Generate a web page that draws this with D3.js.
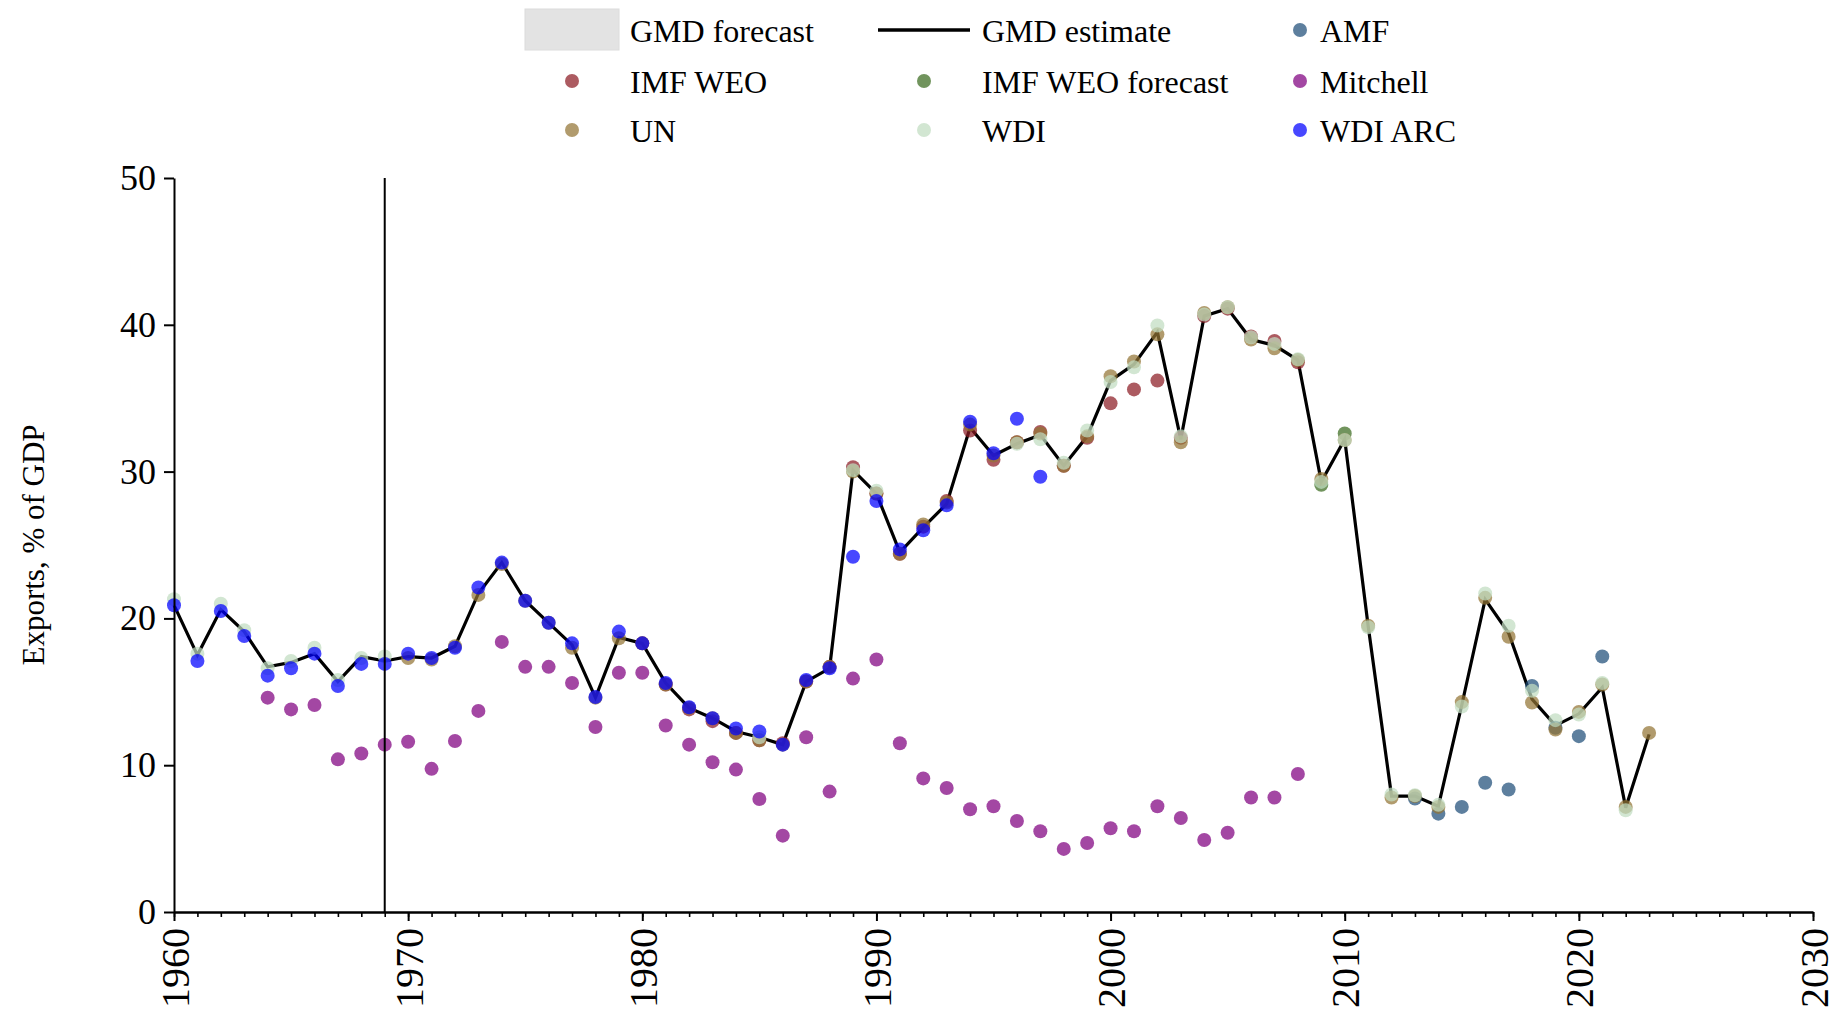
<!DOCTYPE html>
<html>
<head>
<meta charset="utf-8">
<script src="https://cdn.jsdelivr.net/npm/d3@7"></script>
<style>
  html, body { margin: 0; padding: 0; background: #fff; }
  svg { display: block; font-family: "Liberation Serif", "Times New Roman", serif; }
</style>
</head>
<body>
<svg id="chart" width="1840" height="1018"></svg>
<script>
// ---------------- data ----------------
const gmdEstimate = [
  [1960,20.9],[1961,17.5],[1962,20.6],[1963,19.1],[1964,16.7],[1965,17.0],[1966,17.6],[1967,15.7],[1968,17.4],[1969,17.1],
  [1970,17.4],[1971,17.3],[1972,18.1],[1973,21.7],[1974,23.8],[1975,21.2],[1976,19.7],[1977,18.2],[1978,14.6],[1979,18.7],
  [1980,18.3],[1981,15.6],[1982,13.9],[1983,13.2],[1984,12.3],[1985,11.9],[1986,11.4],[1987,15.7],[1988,16.6],[1989,30.1],
  [1990,28.5],[1991,24.5],[1992,26.2],[1993,27.8],[1994,33.0],[1995,31.1],[1996,31.9],[1997,32.5],[1998,30.4],[1999,32.4],
  [2000,36.2],[2001,37.3],[2002,39.5],[2003,32.2],[2004,40.6],[2005,41.1],[2006,39.0],[2007,38.6],[2008,37.6],[2009,29.3],
  [2010,32.2],[2011,19.5],[2012,7.9],[2013,7.9],[2014,7.2],[2015,14.1],[2016,21.3],[2017,19.0],[2018,14.5],[2019,12.7],
  [2020,13.5],[2021,15.3],[2022,7.1],[2023,12.1]
];
const amf = [[2013,7.73],[2014,6.7],[2015,7.16],[2016,8.8],[2017,8.34],[2018,15.4],[2019,12.55],[2020,11.98],[2021,17.4]];
const imfWeo = [
  [1980,18.3],[1981,15.5],[1982,13.8],[1983,13.0],[1984,12.2],[1985,11.7],[1986,11.5],[1987,15.7],[1988,16.7],[1989,30.3],
  [1990,28.5],[1991,24.4],[1992,26.25],[1993,28.0],[1994,32.8],[1995,30.8],[1996,32.0],[1997,32.7],[1998,30.4],[1999,32.3],
  [2000,34.65],[2001,35.6],[2002,36.2],[2003,32.3],[2004,40.6],[2005,41.1],[2006,39.2],[2007,38.9],[2008,37.45]
];
const imfWeoForecast = [[2009,29.1],[2010,32.6]];
const mitchell = [
  [1964,14.6],[1965,13.8],[1966,14.1],[1967,10.4],[1968,10.8],[1969,11.4],[1970,11.6],[1971,9.75],[1972,11.65],[1973,13.7],
  [1974,18.4],[1975,16.7],[1976,16.7],[1977,15.6],[1978,12.6],[1979,16.3],[1980,16.3],[1981,12.7],[1982,11.4],[1983,10.2],
  [1984,9.7],[1985,7.7],[1986,5.2],[1987,11.9],[1988,8.2],[1989,15.9],[1990,17.2],[1991,11.5],[1992,9.1],[1993,8.45],
  [1994,7.0],[1995,7.2],[1996,6.2],[1997,5.5],[1998,4.3],[1999,4.7],[2000,5.7],[2001,5.5],[2002,7.2],[2003,6.4],
  [2004,4.9],[2005,5.4],[2006,7.8],[2007,7.8],[2008,9.4]
];
const un = [
  [1970,17.3],[1971,17.2],[1972,18.1],[1973,21.6],[1974,23.7],[1975,21.2],[1976,19.7],[1977,18.0],[1978,14.6],[1979,18.65],
  [1980,18.3],[1981,15.5],[1982,13.9],[1983,13.2],[1984,12.2],[1985,11.7],[1986,11.4],[1987,15.7],[1988,16.7],[1989,30.0],
  [1990,28.5],[1991,24.4],[1992,26.4],[1993,27.9],[1994,33.2],[1995,31.1],[1996,32.0],[1997,32.6],[1998,30.4],[1999,32.4],
  [2000,36.5],[2001,37.5],[2002,39.35],[2003,32.0],[2004,40.8],[2005,41.2],[2006,39.0],[2007,38.4],[2008,37.6],[2009,29.5],
  [2010,32.15],[2011,19.5],[2012,7.8],[2013,7.9],[2014,7.16],[2015,14.3],[2016,21.4],[2017,18.75],[2018,14.27],[2019,12.43],
  [2020,13.63],[2021,15.5],[2022,7.16],[2023,12.2]
];
const wdi = [
  [1960,21.3],[1961,17.6],[1962,21.0],[1963,19.2],[1964,16.6],[1965,17.1],[1966,18.0],[1967,15.8],[1968,17.3],[1969,17.4],
  [1985,11.9],[1989,30.1],[1990,28.7],[1996,31.9],[1997,32.2],[1998,30.6],[1999,32.8],[2000,36.1],[2001,37.1],[2002,39.95],
  [2003,32.4],[2004,40.7],[2005,41.2],[2006,39.15],[2007,38.7],[2008,37.65],[2009,29.3],[2010,32.15],[2011,19.4],[2012,8.0],
  [2013,7.95],[2014,7.3],[2015,14.0],[2016,21.7],[2017,19.5],[2018,15.07],[2019,13.07],[2020,13.45],[2021,15.6],[2022,6.93]
];
const wdiArc = [
  [1960,20.9],[1961,17.1],[1962,20.5],[1963,18.8],[1964,16.1],[1965,16.6],[1966,17.6],[1967,15.4],[1968,16.9],[1969,16.9],
  [1970,17.6],[1971,17.3],[1972,18.0],[1973,22.1],[1974,23.8],[1975,21.2],[1976,19.7],[1977,18.3],[1978,14.65],[1979,19.1],
  [1980,18.3],[1981,15.6],[1982,13.95],[1983,13.2],[1984,12.5],[1985,12.3],[1986,11.4],[1987,15.8],[1988,16.6],[1989,24.2],
  [1990,28.0],[1991,24.7],[1992,26.0],[1993,27.7],[1994,33.4],[1995,31.25],[1996,33.6],[1997,29.65]
];
const markerYear = 1969;
const xTicks = [1960, 1970, 1980, 1990, 2000, 2010, 2020, 2030];
const yTicks = [0, 10, 20, 30, 40, 50];
const yLabel = "Exports, % of GDP";

const series = [
  { name: "AMF", data: amf, color: "#1f4e79" },
  { name: "IMF WEO", data: imfWeo, color: "#8c1c24" },
  { name: "IMF WEO forecast", data: imfWeoForecast, color: "#3a6b1f" },
  { name: "Mitchell", data: mitchell, color: "#800080" },
  { name: "UN", data: un, color: "#937535" },
  { name: "WDI", data: wdi, color: "#c0dcc0" },
  { name: "WDI ARC", data: wdiArc, color: "#0000ff" }
];

// ---------------- layout ----------------
const svg = d3.select("#chart");
svg.append("rect").attr("width", 1840).attr("height", 1018).attr("fill", "#fff");

const x = d3.scaleLinear().domain([1960, 2030]).range([174, 1813]);
const y = d3.scaleLinear().domain([0, 50]).range([912, 178]);
const DOT_R = 7, DOT_OP = 0.72;

// line
const line = d3.line().x(d => x(d[0])).y(d => y(d[1]));
svg.append("path").datum(gmdEstimate)
  .attr("d", line).attr("fill", "none").attr("stroke", "#000")
  .attr("stroke-width", 3.2).attr("stroke-linejoin", "miter");

// points
series.forEach(s => {
  svg.append("g").selectAll("circle").data(s.data).join("circle")
    .attr("cx", d => x(d[0])).attr("cy", d => y(d[1]))
    .attr("r", DOT_R).attr("fill", s.color).attr("fill-opacity", DOT_OP);
});

// vertical marker
svg.append("line")
  .attr("x1", x(markerYear)).attr("x2", x(markerYear))
  .attr("y1", y(50)).attr("y2", y(0))
  .attr("stroke", "#000").attr("stroke-width", 2);

// axes
const yAxis = svg.append("g").attr("transform", `translate(${x(1960)},0)`)
  .call(d3.axisLeft(y).tickValues(yTicks).tickSize(10).tickPadding(8).tickSizeOuter(0));
yAxis.select(".domain").attr("stroke-width", 2);
yAxis.selectAll(".tick line").attr("stroke-width", 2);
yAxis.selectAll("text").attr("font-size", 36).attr("font-family", "Liberation Serif").attr("fill", "#000");

const xMinor = svg.append("g").attr("transform", `translate(0,${y(0)})`)
  .call(d3.axisBottom(x).tickValues(d3.range(1960, 2031)).tickSize(5).tickFormat("").tickSizeOuter(0));
xMinor.select(".domain").remove();
xMinor.selectAll(".tick line").attr("stroke-width", 1.6);

const xAxis = svg.append("g").attr("transform", `translate(0,${y(0)})`)
  .call(d3.axisBottom(x).tickValues(xTicks).tickSize(9).tickFormat(d3.format("d")).tickSizeOuter(0));
xAxis.select(".domain").attr("stroke-width", 2.4);
xAxis.selectAll(".tick line").attr("stroke-width", 2);
xAxis.selectAll("text")
  .attr("font-size", 40).attr("font-family", "Liberation Serif").attr("fill", "#000")
  .attr("text-anchor", "end")
  .attr("transform", "translate(0,16) rotate(-90)")
  .attr("x", 0).attr("y", 0).attr("dy", "0.35em");

// y label
svg.append("text")
  .attr("transform", `translate(44,${(y(0) + y(50)) / 2}) rotate(-90)`)
  .attr("text-anchor", "middle").attr("font-size", 31).attr("fill", "#000")
  .text(yLabel);

// ---------------- legend ----------------
const leg = svg.append("g").attr("font-size", 32).attr("fill", "#000");
const colSwatch = [572, 924, 1300];
const colText = [630, 982, 1320];
const rowY = [30, 81, 130];
const legendItems = [
  { type: "rect", label: "GMD forecast", col: 0, row: 0 },
  { type: "line", label: "GMD estimate", col: 1, row: 0 },
  { type: "dot", label: "AMF", col: 2, row: 0, color: series[0].color },
  { type: "dot", label: "IMF WEO", col: 0, row: 1, color: series[1].color },
  { type: "dot", label: "IMF WEO forecast", col: 1, row: 1, color: series[2].color },
  { type: "dot", label: "Mitchell", col: 2, row: 1, color: series[3].color },
  { type: "dot", label: "UN", col: 0, row: 2, color: series[4].color },
  { type: "dot", label: "WDI", col: 1, row: 2, color: series[5].color },
  { type: "dot", label: "WDI ARC", col: 2, row: 2, color: series[6].color }
];
legendItems.forEach(it => {
  const cx = colSwatch[it.col], cy = rowY[it.row];
  if (it.type === "rect") {
    leg.append("rect").attr("x", cx - 47).attr("y", cy - 21).attr("width", 94).attr("height", 41)
      .attr("fill", "#e3e3e3").attr("stroke", "#dcdcdc").attr("stroke-width", 1);
  } else if (it.type === "line") {
    leg.append("line").attr("x1", cx - 46).attr("x2", cx + 46).attr("y1", cy).attr("y2", cy)
      .attr("stroke", "#000").attr("stroke-width", 3.5);
  } else {
    leg.append("circle").attr("cx", cx).attr("cy", cy).attr("r", DOT_R)
      .attr("fill", it.color).attr("fill-opacity", DOT_OP);
  }
  leg.append("text").attr("x", colText[it.col]).attr("y", cy + 12).text(it.label);
});
</script>
</body>
</html>
